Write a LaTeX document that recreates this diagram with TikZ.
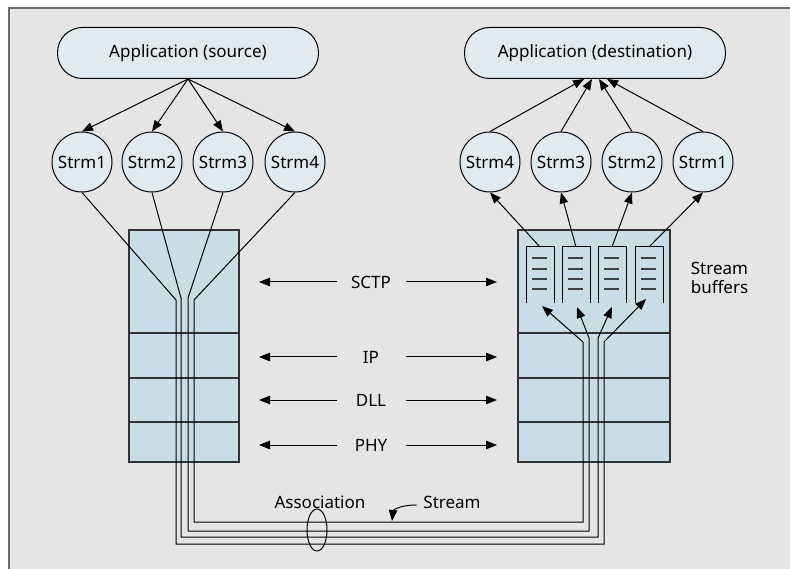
\documentclass[tikz,border=0pt]{standalone}
\usepackage{fontspec}
\setmainfont{Noto Sans}
\usetikzlibrary{arrows.meta,shapes.geometric}
\definecolor{panel}{HTML}{E5E5E5}
\definecolor{framegray}{HTML}{6B6B6B}
\definecolor{bubble}{HTML}{DFEAF1}
\definecolor{layerfill}{HTML}{C9DDE6}
\begin{document}
\begin{tikzpicture}[x=1pt,y=-1pt,line width=1pt,
        every node/.style={font=\fontsize{17}{19}\selectfont},
        app/.style={draw,fill=bubble,rounded corners=25pt,minimum width=261pt,minimum height=51pt},
        strm/.style={draw,circle,fill=bubble,minimum size=60pt,inner sep=0pt},
        layer/.style={draw=black!80,fill=layerfill,line width=1.2pt,minimum width=#1,inner sep=0pt,outer sep=0pt},
        arr/.style={-{Triangle[length=11pt,width=8.5pt]}}]
        \useasboundingbox (0,0) rectangle (790,569);
        \fill[panel] (8,7) rectangle (790,569);
        \draw[framegray,line width=2pt] (9,569) -- (9,8) -- (790,8);

        \node[app] (srcapp) at (188,53) {Application (source)};
        \node[app] (dstapp) at (595,53) {Application (destination)};
        \foreach \n/\x in {1/82,2/152,3/223,4/295}
                \node[strm] (src\n) at (\x,162) {Strm\n};
        \foreach \n/\x in {4/490,3/561,2/632,1/703}
                \node[strm] (dst\n) at (\x,162) {Strm\n};
        \foreach \n in {1,...,4}
                \draw[arr] (srcapp.south) -- (src\n.north);
        \foreach \n/\dx in {4/-11,3/-3,2/4,1/12}
                \draw[arr] (dst\n.north) -- ([xshift=\dx pt]dstapp.south);

        \node[layer=110pt,minimum height=103pt,anchor=north west] (lsctp) at (129,230) {};
        \node[layer=110pt,minimum height=45pt,anchor=north] (lip) at (lsctp.south) {};
        \node[layer=110pt,minimum height=44pt,anchor=north] (ldll) at (lip.south) {};
        \node[layer=110pt,minimum height=40pt,anchor=north] (lphy) at (ldll.south) {};
        \node[layer=152pt,minimum height=103pt,anchor=north west] (rsctp) at (518,230) {};
        \node[layer=152pt,minimum height=45pt,anchor=north] (rip) at (rsctp.south) {};
        \node[layer=152pt,minimum height=44pt,anchor=north] (rdll) at (rip.south) {};
        \node[layer=152pt,minimum height=40pt,anchor=north] (rphy) at (rdll.south) {};

        \foreach \n/\x/\tx/\ty in {4/526/16/306,3/562/15/307,2/598/14/307,1/635/11/299} {
                \draw (\x,303) -- (\x,247) -- (\x+28,247) -- (\x+28,303);
                \foreach \y in {258,269,279,289}
                        \draw[black!75,line width=1.3pt] (\x+6,\y) -- (\x+21,\y);
                \coordinate (buf\n) at (\x+14,247);
                \coordinate (tip\n) at (\x+\tx,\ty);
        }
        \foreach \n in {1,...,4}
                \draw[arr] (buf\n) -- (dst\n.south);
        \foreach \n/\lx/\ly/\by/\rx/\ry in {1/176/300/544/604/342,2/181/298/537/598/338,3/188/298/531/589/338,4/194/300/522/583/342}
                \draw[arr] (src\n.south) -- (\lx,\ly) -- (\lx,\by) -- (\rx,\by) -- (\rx,\ry) -- (tip\n);

        \foreach \lab/\nm/\y in {SCTP/sctp/282,IP/ip/357,DLL/dll/400,PHY/phy/445} {
                \node (\nm) at (371,\y) {\lab};
                \draw[arr,shorten <=34pt,shorten >=20pt] (\nm.center) -- (l\nm.east |- \nm.center);
                \draw[arr,shorten <=35pt,shorten >=21pt] (\nm.center) -- (r\nm.west |- \nm.center);
        }
        \node[anchor=west,align=left] (buflbl) at (687,278) {Stream\\buffers};

        \node[ellipse,draw,minimum width=20pt,minimum height=42pt,inner sep=0pt] (assoc) at (317,530) {};
        \node (assoclbl) at (320,502) {Association};
        \node (strmlbl) at (452,502) {Stream};
        \coordinate (strmhit) at (392,521);
        \draw[arr] ([xshift=-3pt,yshift=-3pt]strmlbl.west) .. controls (398,505) and (393,511) .. (strmhit);
\end{tikzpicture}
\end{document}
